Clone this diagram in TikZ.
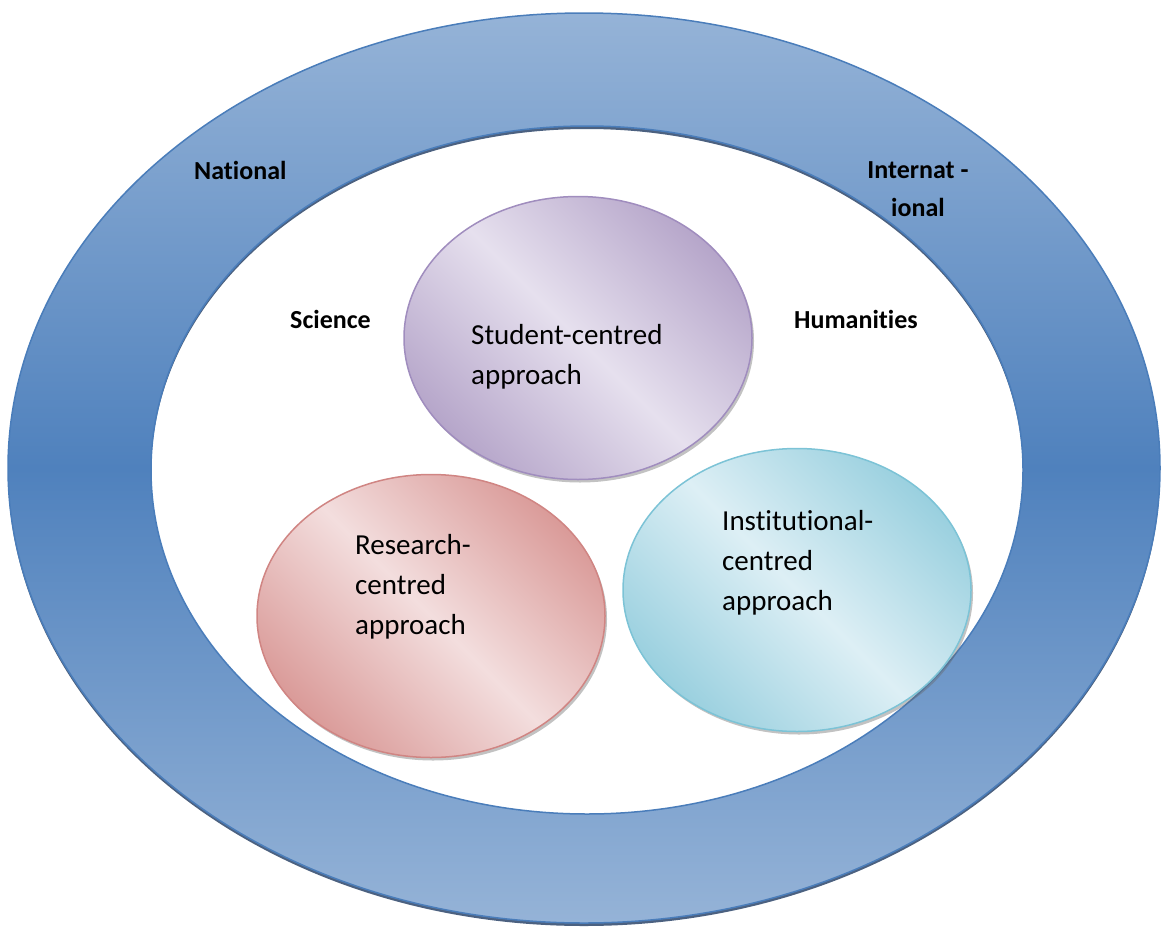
\documentclass[tikz,border=0pt]{standalone}
\usepackage{fontspec}
\setmainfont[Ligatures=NoCommon]{Carlito}
\usetikzlibrary{shapes.geometric,shadows}

% ring colours
\definecolor{ringlight}{HTML}{95B3D7}
\definecolor{ringdark}{HTML}{4F81BD}
\definecolor{ringline}{HTML}{4A7DBA}
\definecolor{ringshadow}{HTML}{1F3A60}
% bubble colours
\definecolor{purpledark}{HTML}{B6A6CA}
\definecolor{purplelight}{HTML}{E6E0EE}
\definecolor{purpleline}{HTML}{A08DBE}
\definecolor{reddark}{HTML}{DA9B99}
\definecolor{redlight}{HTML}{F3DEDE}
\definecolor{redline}{HTML}{D08583}
\definecolor{tealdark}{HTML}{9AD0DF}
\definecolor{teallight}{HTML}{DDEFF5}
\definecolor{tealline}{HTML}{7CC3D6}

\begin{document}
\begin{tikzpicture}[x=1pt,y=1pt,
  ringedge/.style={draw=ringline, line width=1.5pt},
  bubble/.style={ellipse, minimum width=348pt, minimum height=283pt, inner sep=0pt,
    line width=1.5pt,
    drop shadow={shadow xshift=2pt, shadow yshift=-3pt, opacity=0.4, fill=black!60}},
  % line, outer and centre colour of a bubble (angle must come after the colours)
  bubblecol/.style n args={3}{draw=#1, top color=#2, bottom color=#2,
    middle color=#3, shading angle=-45},
  bubbletext/.style={anchor=base west, align=left, inner sep=0pt,
    font=\fontsize{29}{40}\selectfont},
  ringtext/.style={anchor=base west, align=center, inner sep=0pt,
    font=\bfseries\fontsize{26}{38}\selectfont}]
\useasboundingbox (0,0) rectangle (1161,-926);

% outer ring with its shadow
\fill[ringshadow, opacity=0.8, even odd rule]
  (584,-471) ellipse [x radius=576, y radius=455]
  (587,-473) ellipse [x radius=436, y radius=344];
\shade[top color=ringlight, bottom color=ringlight, middle color=ringdark, even odd rule]
  (584,-468) ellipse [x radius=576, y radius=455]
  (587,-470) ellipse [x radius=436, y radius=344];
\draw[ringedge] (584,-468) ellipse [x radius=576, y radius=455];
\draw[ringedge] (587,-470) ellipse [x radius=436, y radius=344];

% the three approaches
\node[bubble, bubblecol={purpleline}{purpledark}{purplelight}] (student) at (578,-338) {};
\node[bubble, bubblecol={redline}{reddark}{redlight}] (research) at (431,-616) {};
\node[bubble, bubblecol={tealline}{tealdark}{teallight}] (institution) at (797,-590) {};

% multi-line nodes sit on the baseline of their last line
\node[bubbletext] (studenttext) at (471,-384) {Student-centred\\approach};
\node[bubbletext] (researchtext) at (355,-634) {Research-\\centred\\approach};
\node[bubbletext] (institutiontext) at (722,-610) {Institutional-\\centred\\approach};

% labels on the ring and inside it
\node[ringtext] (national) at (194,-179) {National};
\node[ringtext, anchor=base] (international) at (918,-216) {Internat -\\ional};
\node[ringtext] (science) at (290,-328) {Science};
\node[ringtext] (humanities) at (794,-328) {Humanities};
\end{tikzpicture}
\end{document}
